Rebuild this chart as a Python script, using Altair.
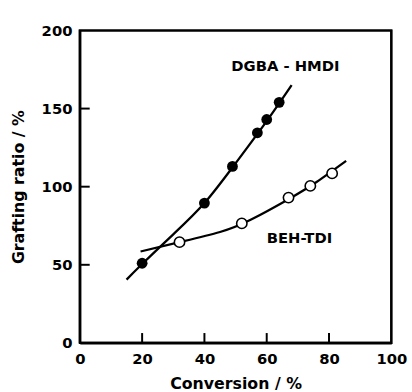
import altair as alt
import pandas as pd

# measured points
dgba_x = [20, 40, 49, 57, 60, 64]
dgba_y = [51, 89.5, 113, 134.5, 143, 154]
beh_x = [32, 52, 67, 74, 81]
beh_y = [64.5, 76.5, 93, 100.5, 108.5]

# fitted curves
dgba_curve_x = [15, 20, 30, 40, 50, 60, 68]
dgba_curve_y = [40.5, 50.5, 69.5, 89.5, 115, 142, 165]
beh_curve_x = [19.5, 32, 45, 55, 67, 76, 85.5]
beh_curve_y = [58.5, 64.5, 71, 79, 92, 103, 116.5]

label_text = ["DGBA - HMDI", "BEH-TDI"]
label_x = [66, 70.5]
label_y = [177, 67]

x_ticks = [20, 40, 60, 80]
y_ticks = [50, 100, 150]

# plot frame corners (data domain)
frame_x = [0, 100, 100, 0, 0]
frame_y = [0, 0, 200, 200, 0]

FONT = "DejaVu Sans"
W, H = 316, 317

pts_f = pd.DataFrame({"x": dgba_x, "y": dgba_y})
pts_o = pd.DataFrame({"x": beh_x, "y": beh_y})
cur_f = pd.DataFrame({"x": dgba_curve_x, "y": dgba_curve_y})
cur_o = pd.DataFrame({"x": beh_curve_x, "y": beh_curve_y})
labs = pd.DataFrame({"t": label_text, "x": label_x, "y": label_y})
frm = pd.DataFrame({"fx": frame_x, "fy": frame_y, "o": list(range(len(frame_x)))})

xs = alt.Scale(domain=[0, 100], nice=False)
ys = alt.Scale(domain=[0, 200], nice=False)

xaxis = alt.Axis(values=[0, 20, 40, 60, 80, 100], ticks=False, domain=True, domainColor="black",
                 domainWidth=2.2, grid=False,
                 labelFlush=False, labelFont=FONT, labelFontSize=15, labelFontWeight="bold",
                 labelColor="black", labelPadding=9, title="Conversion / %", titleFont=FONT,
                 titleFontSize=16, titleFontWeight="bold", titleColor="black", titlePadding=9)
yaxis = alt.Axis(values=[0, 50, 100, 150, 200], ticks=False, domain=True, domainColor="black",
                 domainWidth=2.2, grid=False,
                 labelFlush=False, labelFont=FONT, labelFontSize=15, labelFontWeight="bold",
                 labelColor="black", labelPadding=8, title="Grafting ratio / %", titleFont=FONT,
                 titleFontSize=16, titleFontWeight="bold", titleColor="black", titlePadding=15)

X = alt.X("x:Q", scale=xs, axis=xaxis)
Y = alt.Y("y:Q", scale=ys, axis=yaxis)

frame = alt.Chart(frm).mark_line(color="black", strokeWidth=2.2, interpolate="linear").encode(
    x=alt.X("fx:Q", scale=xs, axis=xaxis), y=alt.Y("fy:Q", scale=ys, axis=yaxis), order="o:Q")

line_f = alt.Chart(cur_f).mark_line(color="black", strokeWidth=2.3, interpolate="natural").encode(x=X, y=Y)
line_o = alt.Chart(cur_o).mark_line(color="black", strokeWidth=2.3, interpolate="natural").encode(x=X, y=Y)
p_f = alt.Chart(pts_f).mark_point(shape="circle", filled=True, color="black", size=120, opacity=1).encode(x=X, y=Y)
p_o = alt.Chart(pts_o).mark_point(shape="circle", filled=True, fill="white", stroke="black",
                                   strokeWidth=1.6, size=110, opacity=1).encode(x=X, y=Y)
txt = alt.Chart(labs).mark_text(font=FONT, fontSize=15, fontWeight="bold", color="black").encode(
    x=X, y=Y, text="t:N")

xt = alt.Chart(pd.DataFrame({"x": x_ticks})).mark_tick(
    color="black", thickness=2, size=10, orient="vertical", opacity=1).encode(
    x=X, y=alt.value(H - 5))
yt = alt.Chart(pd.DataFrame({"y": y_ticks})).mark_tick(
    color="black", thickness=2, size=10, orient="horizontal", opacity=1).encode(
    y=Y, x=alt.value(5))

chart = alt.layer(frame, xt, yt, line_o, line_f, p_o, p_f, txt).properties(
    width=W, height=H,
    background="white",
    padding={"left": 10, "top": 21, "right": 5, "bottom": 5},
).configure_view(stroke="black", strokeWidth=2.2)

chart.save("out.html", embed_options={"renderer": "svg", "actions": False})
